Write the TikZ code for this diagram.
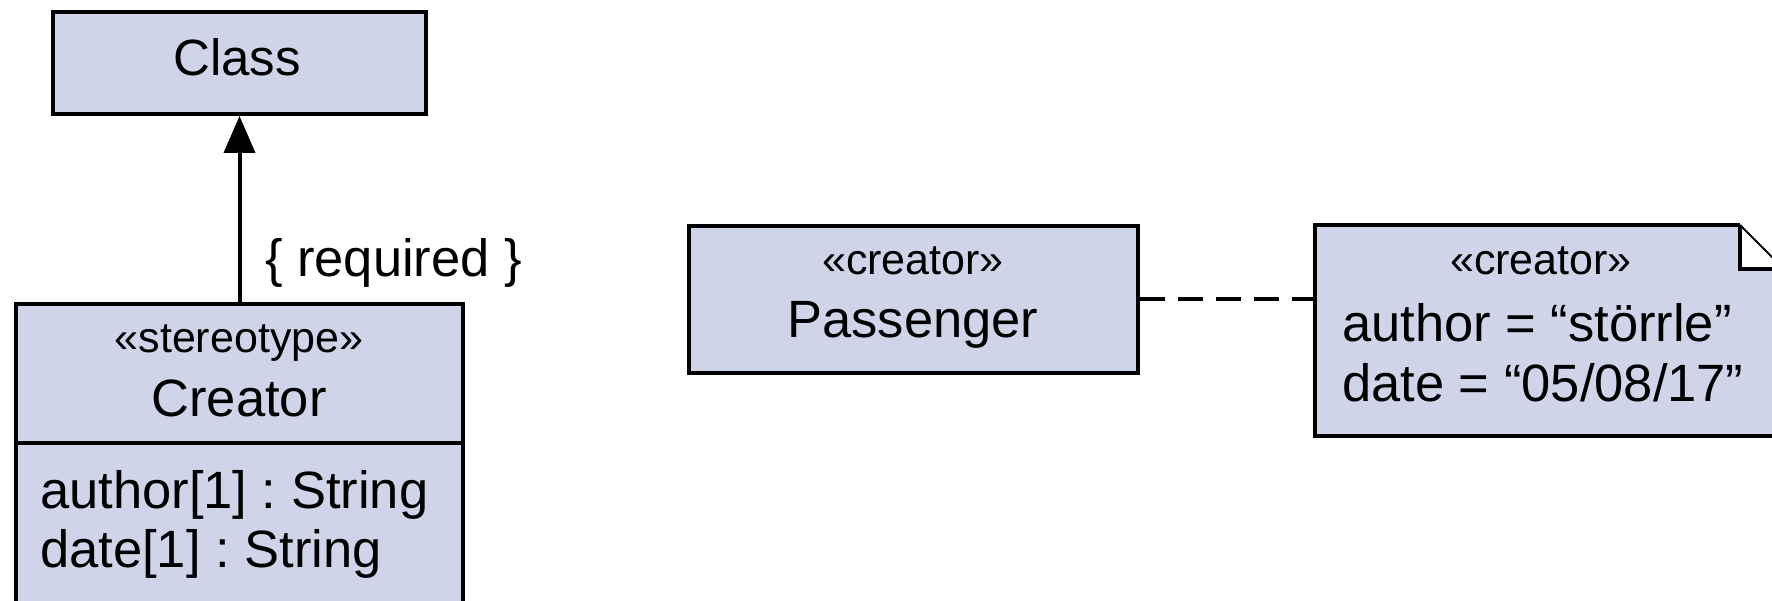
\documentclass[tikz,border=0pt]{standalone}
\usepackage{fontspec}
\setmainfont{Liberation Sans}
\usetikzlibrary{arrows.meta,calc}
\definecolor{umlfill}{RGB}{207,212,233}
\frenchspacing
\tikzset{
  umlbox/.style={draw=black, fill=umlfill, line width=4pt, rectangle, inner sep=0pt},
  bigtxt/.style={font=\fontsize{52.5}{58}\selectfont, inner sep=0pt},
  classtxt/.style={font=\fontsize{51}{58}\selectfont, inner sep=0pt},
  smalltxt/.style={font=\fontsize{43}{50}\selectfont, inner sep=0pt},
  dashconn/.style={line width=4pt, dash pattern=on 25pt off 13pt},
}
\begin{document}
\begin{tikzpicture}[x=1pt,y=-1pt]
\path[use as bounding box] (0,0) rectangle (1772,601);
\clip (0,0) rectangle (1772,601);

% Class box
\node[umlbox, minimum width=373pt, minimum height=102pt] (class) at (239.5,63) {};
\node[classtxt, anchor=base] (classname) at (237,76) {Class};

% Creator stereotype box
\node[umlbox, minimum width=447pt, minimum height=139pt] (creator) at (239.5,373.5) {};
\node[umlbox, minimum width=447pt, minimum height=207pt] (creatorattr) at (239.5,546.5) {};
\node[smalltxt, anchor=base] (creatorst) at (239,353) {«stereotype»};
\node[bigtxt, anchor=base] (creatorname) at (239,417) {Creator};
\node[bigtxt, anchor=base west] (attr1) at (40,508) {author[1] : String};
\node[bigtxt, anchor=base west] (attr2) at (40,567) {date[1] : String};

% extension arrow
\draw[line width=4pt, -{Triangle[length=37pt,width=31pt]}]
  (creator.north) -- (creator.north |- class.south);
\node[bigtxt, anchor=base west] (req) at (265,277) {\{ required \}};

% Passenger
\node[umlbox, minimum width=449pt, minimum height=147pt] (passenger) at (913.5,299.5) {};
\node[smalltxt, anchor=base] (passst) at (913,275) {«creator»};
\node[bigtxt, anchor=base] (passname) at (913,338) {Passenger};

% Note
\node[rectangle, minimum width=469pt, minimum height=211pt, inner sep=0pt, outer sep=2pt] (note) at (1549.5,330.5) {};
\fill[umlfill] (1315,225) -- (1740,225) -- (1784,269) -- (1784,436) -- (1315,436) -- cycle;
\draw[line width=4pt, line join=miter] (1740,225) -- (1315,225) -- (1315,436) -- (1784,436) -- (1784,269);
\fill[white] (1740,225) -- (1740,269) -- (1784,269) -- cycle;
\draw[line width=2pt] (1740,225) -- (1784,269);
\draw[line width=3.5pt] (1740,225) -- (1740,269) -- (1784,269);
\node[smalltxt, anchor=base] (notest) at (1541,275) {«creator»};
\node[bigtxt, anchor=base west] (note1) at (1342,342) {author = “störrle”};
\node[bigtxt, anchor=base west] (note2) at (1342,401) {date = “05/08/17”};

% dashed connector
\draw[dashconn] (passenger.east) -- (passenger.east -| note.west);
\end{tikzpicture}
\end{document}
